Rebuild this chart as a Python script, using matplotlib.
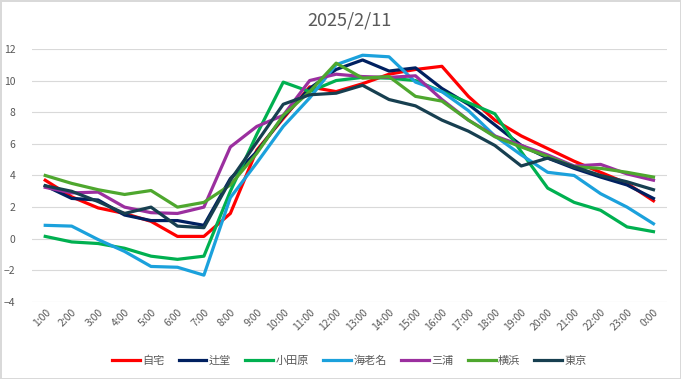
import numpy as np
import matplotlib.pyplot as plt

plt.rcParams['font.family'] = ['Noto Sans CJK JP', 'DejaVu Sans']

hours = ['1:00', '2:00', '3:00', '4:00', '5:00', '6:00', '7:00', '8:00',
         '9:00', '10:00', '11:00', '12:00', '13:00', '14:00', '15:00', '16:00',
         '17:00', '18:00', '19:00', '20:00', '21:00', '22:00', '23:00', '0:00']

jitaku = [3.7, 2.65, 1.95, 1.6, 1.1, 0.15, 0.15, 1.6, 5.6, 7.6, 9.6, 9.3,
          9.8, 10.4, 10.7, 10.9, 9.0, 7.5, 6.5, 5.7, 4.9, 4.2, 3.5, 2.4]
tsujido = [3.35, 2.55, 2.45, 1.5, 1.15, 1.15, 0.85, 3.8, 5.5, 7.7, 9.5, 10.7,
           11.3, 10.6, 10.8, 9.5, 8.5, 7.2, 5.9, 5.1, 4.45, 3.9, 3.4, 2.55]
odawara = [0.15, -0.2, -0.3, -0.6, -1.1, -1.3, -1.1, 3.0, 6.6, 9.9, 9.3, 10.0,
           10.2, 10.15, 10.0, 9.3, 8.6, 7.9, 5.5, 3.2, 2.3, 1.8, 0.75, 0.45]
ebina = [0.85, 0.8, -0.05, -0.8, -1.75, -1.8, -2.3, 2.6, 4.8, 7.1, 8.9, 11.0,
         11.6, 11.5, 9.9, 9.3, 8.1, 6.5, 5.3, 4.2, 4.0, 2.85, 2.0, 0.95]
miura = [3.25, 2.9, 2.95, 2.0, 1.65, 1.6, 2.0, 5.8, 7.1, 7.8, 10.0, 10.4,
         10.25, 10.2, 10.3, 8.8, 7.5, 6.5, 5.9, 5.3, 4.6, 4.7, 4.1, 3.7]
yokohama = [4.0, 3.5, 3.1, 2.8, 3.05, 2.0, 2.3, 3.4, 5.4, 7.8, 9.3, 11.1,
            10.15, 10.25, 9.0, 8.7, 7.5, 6.45, 5.8, 5.2, 4.55, 4.45, 4.2, 3.9]
tokyo = [3.35, 3.0, 2.35, 1.6, 2.0, 0.8, 0.7, 3.7, 6.1, 8.5, 9.1, 9.2,
         9.7, 8.8, 8.4, 7.5, 6.8, 5.9, 4.6, 5.1, 4.55, 4.0, 3.6, 3.1]

series = [('自宅', jitaku, '#FF0000'),
          ('辻堂', tsujido, '#002060'),
          ('小田原', odawara, '#00B050'),
          ('海老名', ebina, '#1BA1DC'),
          ('三浦', miura, '#9B2F9F'),
          ('横浜', yokohama, '#4EA72E'),
          ('東京', tokyo, '#173F50')]

fig = plt.figure(figsize=(6.81, 3.79), dpi=100)
fig.patch.set_edgecolor('#D9D9D9')
fig.patch.set_linewidth(1)
ax = fig.add_axes([0.047, 0.203, 0.932, 0.668])

x = np.arange(len(hours))
for name, vals, col in series:
    ax.plot(x, vals, color=col, lw=2.3, label=name, solid_joinstyle='round')

ax.set_xlim(-0.5, len(hours) - 0.5)
ax.set_ylim(-4, 12)
ax.set_yticks(range(-4, 13, 2))
ax.set_xticks(x)
ax.set_xticklabels(hours, rotation=45, ha='right', rotation_mode='anchor')
ax.tick_params(axis='both', length=0, labelsize=7.5, labelcolor='#595959')
ax.tick_params(axis='y', pad=12)
ax.grid(axis='y', color='#D9D9D9', lw=0.8)
ax.set_axisbelow(True)
for s in ax.spines.values():
    s.set_visible(False)

ax.set_title('2025/2/11', fontsize=13, color='#595959', pad=17)

ax.legend(loc='upper center', bbox_to_anchor=(0.5, -0.17), ncol=7,
          frameon=False, fontsize=8, labelcolor='#595959',
          handlelength=2.5, handletextpad=0.2, columnspacing=1.3)

fig.savefig('out.png', dpi=100)
